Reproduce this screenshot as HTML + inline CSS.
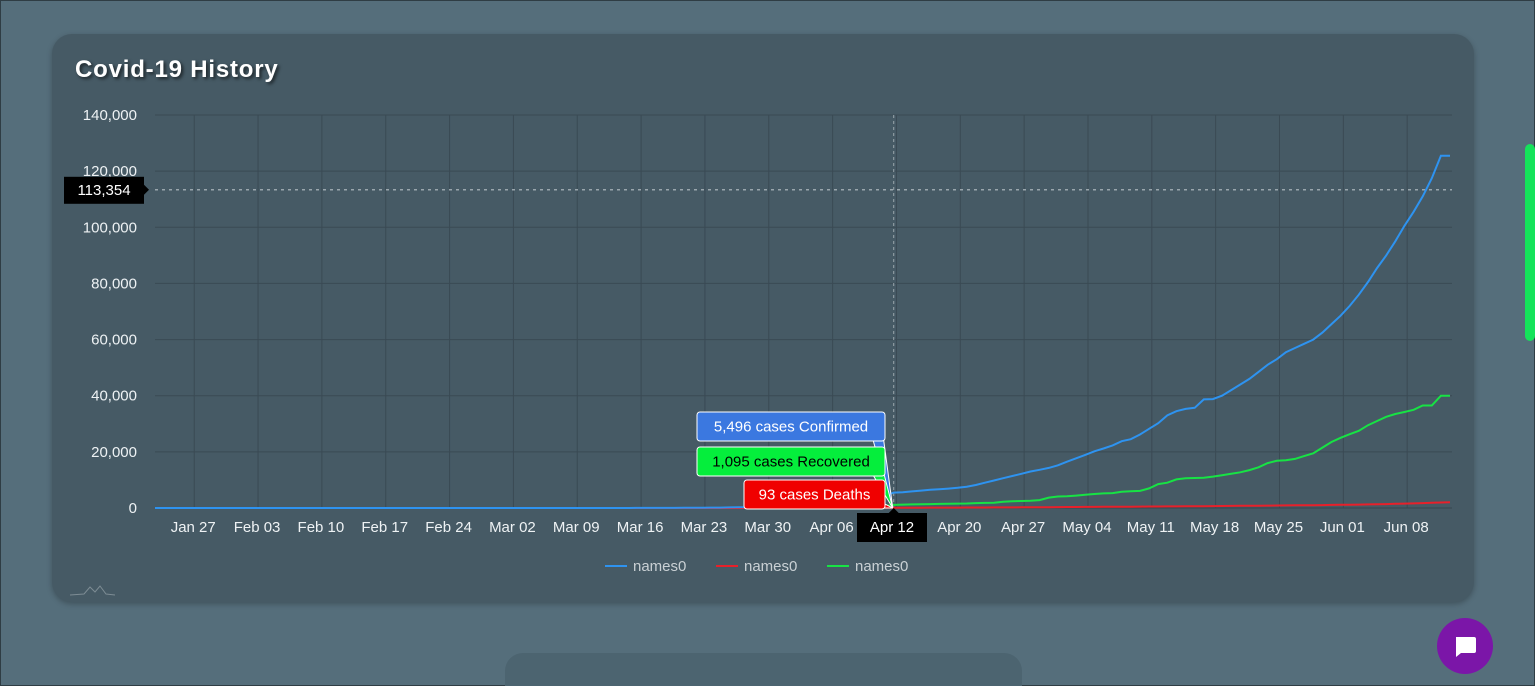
<!DOCTYPE html>
<html><head><meta charset="utf-8"><style>
html,body{margin:0;padding:0;width:1535px;height:686px;overflow:hidden;}
body{background:#556e7b;position:relative;font-family:"Liberation Sans",sans-serif;}
#frame{position:absolute;left:0;top:0;width:1533px;height:684px;border:1px solid #2f3d44;box-sizing:content-box;}
#card{position:absolute;left:52px;top:34px;width:1422px;height:568px;background:#465a65;border-radius:20px;box-shadow:0 2px 6px rgba(0,0,0,0.25);}
#title{position:absolute;left:75px;top:56px;font-size:24px;font-weight:bold;color:#fff;letter-spacing:0.8px;text-shadow:2px 2px 3px rgba(0,0,0,0.6);}
#card2{position:absolute;left:505px;top:653px;width:517px;height:60px;background:#4c6470;border-radius:18px;}
#scroll{position:absolute;left:1525px;top:144px;width:10px;height:197px;background:#14e35a;border-radius:5px;}
#chat{position:absolute;left:1437px;top:618px;width:56px;height:56px;border-radius:50%;background:#7b16a8;}
svg{position:absolute;left:0;top:0;}
</style></head><body>
<div id="frame"></div>
<div id="card"></div>
<div id="title">Covid-19 History</div>
<div id="card2"></div>
<div id="scroll"></div>
<div id="chat">
<svg width="56" height="56" viewBox="0 0 56 56"><path d="M19 19h18a2 2 0 0 1 2 2v12a2 2 0 0 1-2 2H24l-5 4z" fill="#fff"/></svg>
</div>
<svg id="chart" width="1535" height="686"></svg>
<script>
// Daily values from Jan 22 to Jun 12
const confJan=[0,0,0,0,0,0,0,0,0,1];
const confFeb=[1,1,2,2,3,3,3,3,3,3,3,3,3,3,3,3,3,3,3,3,3,3,3,3,3,3,3,3,3];
const confMar=[3,3,3,4,4,5,5,6,7,8,10,12,14,16,20,25,30,40,50,60,80,100,130,160,200,250,300,400,550,750,900];
const confApr=[1000,1200,1400,1700,2000,2300,2700,3000,3400,3800,4300,5496,5600,5900,6200,6500,6700,6900,7200,7600,8200,9000,9800,10600,11400,12200,13000,13600,14300,15200];
const confMay=[16500,17700,18900,20200,21200,22300,23800,24500,26200,28200,30200,33000,34500,35300,35700,38700,38800,40000,42000,44000,46000,48500,51000,53000,55500,57000,58500,60000,62500,65500,68500];
const confJun=[72000,76000,80500,85500,90000,95000,100500,105500,111000,117500,125500,125500];
const recJan=[0,0,0,0,0,0,0,0,0,0];
const recFeb=[0,0,0,0,0,0,0,0,0,0,0,0,0,0,0,0,0,0,0,0,1,1,1,1,1,1,1,1,1];
const recMar=[1,1,1,1,1,1,1,1,2,2,2,2,3,3,3,4,4,5,5,6,8,10,12,15,18,20,25,30,35,40,45];
const recApr=[50,60,80,100,150,200,250,300,400,500,700,1095,1200,1300,1350,1400,1450,1500,1550,1600,1750,1800,1900,2200,2400,2500,2600,2800,3700,4100];
const recMay=[4200,4400,4700,5000,5200,5300,5800,6000,6100,7000,8500,9000,10200,10600,10700,10800,11200,11700,12200,12700,13500,14500,16000,16800,17000,17500,18500,19500,21500,23500,25000];
const recJun=[26300,27500,29500,31000,32500,33500,34200,35000,36500,36500,40000,40000];
const deaJan=[0,0,0,0,0,0,0,0,0,0];
const deaFeb=[0,0,0,0,0,0,0,0,0,0,0,0,0,0,0,0,0,0,0,0,0,0,0,0,0,0,0,0,0];
const deaMar=[0,0,0,0,0,0,0,0,0,0,0,0,0,0,0,1,1,1,1,2,2,3,3,4,5,6,7,9,11,13,15];
const deaApr=[18,21,25,29,34,39,45,52,60,68,80,93,100,110,120,130,140,150,160,170,180,190,200,215,230,245,260,280,300,320];
const deaMay=[340,360,380,400,420,440,460,480,500,520,540,560,580,600,620,650,680,710,740,770,800,830,860,890,920,950,980,1010,1050,1090,1130];
const deaJun=[1170,1220,1270,1330,1400,1480,1560,1650,1750,1850,1950,2050];
const yTicks=[0,20000,40000,60000,80000,100000,120000,140000];
const xTickLabels=["Jan 27","Feb 03","Feb 10","Feb 17","Feb 24","Mar 02","Mar 09","Mar 16","Mar 23","Mar 30","Apr 06","Apr 13","Apr 20","Apr 27","May 04","May 11","May 18","May 25","Jun 01","Jun 08"];
const hoverIndex=81; // Apr 12
const hoverY=113354;
const hoverLabel="Apr 12";

const conf=[].concat(confJan,confFeb,confMar,confApr,confMay,confJun);
const rec=[].concat(recJan,recFeb,recMar,recApr,recMay,recJun);
const dea=[].concat(deaJan,deaFeb,deaMar,deaApr,deaMay,deaJun);
const L=155,R=1452,T=115,B=508,dayW=9.12;
const x=d=>L+d*dayW;
const y=v=>B-(v/140000)*(B-T);
const NS="http://www.w3.org/2000/svg";
const svg=document.getElementById('chart');
function mk(tag,at,parent){const e=document.createElementNS(NS,tag);for(const k in at)e.setAttribute(k,at[k]);(parent||svg).appendChild(e);return e;}
const fmt=v=>v.toLocaleString('en-US');
yTicks.forEach(v=>{
 const g=mk('line',{x1:L,x2:R,y1:y(v),y2:y(v),stroke:'#3a4a54','stroke-width':1});
 
 
 const t=mk('text',{x:137,y:y(v)+5,'text-anchor':'end','font-size':15,fill:'#eef2f4'});
 t.textContent=fmt(v);
 
 
});
xTickLabels.forEach((s,k)=>{
 const d=4.3+7*k, xx=x(d);
 const g=mk('line',{x1:xx,x2:xx,y1:T,y2:B,stroke:'#3a4a54','stroke-width':1});
 
 
 if(k===11)return;
 const t=mk('text',{x:xx-1,y:532,'text-anchor':'middle','font-size':15,fill:'#eef2f4'});
 t.textContent=s;
 
 
});
mk('line',{x1:L,x2:R,y1:B,y2:B,stroke:'#37474f','stroke-width':1});
const hx=x(hoverIndex);
mk('line',{x1:hx,x2:hx,y1:T,y2:B,stroke:'#9aa6ad','stroke-width':1,'stroke-dasharray':'3,3'});
mk('line',{x1:L,x2:R,y1:y(hoverY),y2:y(hoverY),stroke:'#9aa6ad','stroke-width':1.5,'stroke-dasharray':'3,4'});
function series(arr,color,name){
 const p=mk('path',{d:arr.map((v,i)=>(i?'L':'M')+x(i).toFixed(1)+','+y(v).toFixed(1)).join(''),fill:'none',stroke:color,'stroke-width':2});
 
 
}
series(rec,'#17e344','recovered-line');
series(dea,'#e8202a','deaths-line');
series(conf,'#2e93f0','confirmed-line');
const px=hx, py=B;
function box(x0,y0,w,h,bg,fg,txt,name){
 const g=mk('g',{});
 
 
 mk('path',{d:`M${x0+w-12},${y0+h-1} L${px-1},${py} L${x0+w-2},${y0+h-6} Z`,fill:bg,stroke:'#fff','stroke-width':1},g);
 mk('rect',{x:x0,y:y0,width:w,height:h,rx:3,fill:bg,stroke:'#fff','stroke-width':1},g);
 const t=mk('text',{x:x0+w/2,y:y0+h/2+5,'text-anchor':'middle','font-size':15,fill:fg},g);
 t.textContent=txt;
}
box(697,412,188,29,'#3b78e0','#fff',fmt(conf[hoverIndex])+' cases Confirmed','confirmed-tooltip');
box(697,447,188,29,'#05ee3c','#000',fmt(rec[hoverIndex])+' cases Recovered','recovered-tooltip');
box(744,480,141,29,'#f00000','#fff',fmt(dea[hoverIndex])+' cases Deaths','deaths-tooltip');
const xl=mk('g',{});


mk('rect',{x:857,y:513,width:70,height:29,fill:'#000'},xl);
mk('path',{d:`M${hx-5},513 L${hx},508 L${hx+5},513Z`,fill:'#000'},xl);
const xlt=mk('text',{x:892,y:532,'text-anchor':'middle','font-size':15,fill:'#fff'},xl);xlt.textContent=hoverLabel;
const yl=mk('g',{});


const yy=y(hoverY);
mk('rect',{x:64,y:yy-13,width:80,height:27,fill:'#000'},yl);
mk('path',{d:`M144,${yy-5} L149,${yy} L144,${yy+5}Z`,fill:'#000'},yl);
const ylt=mk('text',{x:104,y:yy+5,'text-anchor':'middle','font-size':15,fill:'#fff'},yl);ylt.textContent=fmt(hoverY);
[['#2e93f0',605],['#e8202a',716],['#17e344',827]].forEach(([c,lx])=>{
 const g=mk('g',{});
 
 
 mk('line',{x1:lx,x2:lx+22,y1:566,y2:566,stroke:c,'stroke-width':2},g);
 const t=mk('text',{x:lx+28,y:571,'font-size':15,fill:'#c9d0d4'},g);t.textContent='names0';
});
const lg=mk('path',{d:'M70,595 L84,594 L90,587 L95,592 L100,586 L106,594 L115,595',fill:'none',stroke:'#7d8c94','stroke-width':1});


</script>
</body></html>
